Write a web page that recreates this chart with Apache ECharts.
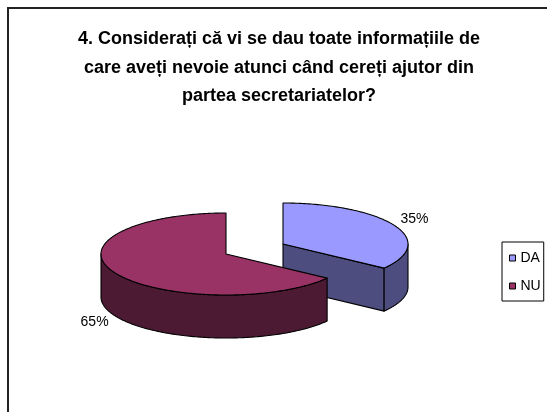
<!DOCTYPE html>
<html><head><meta charset="utf-8">
<script src="https://cdn.jsdelivr.net/npm/echarts@6/dist/echarts.min.js"></script>
<style>html,body{margin:0;padding:0;background:#fff}#c{width:547px;height:412px}</style>
</head><body><div id="c"></div>
<script>
const titleLines = ['4. Considerați că vi se dau toate informațiile de', 'care aveți nevoie atunci când cereți ajutor din', 'partea secretariatelor?'];
const categories = ['DA', 'NU'];
const values = [35, 65];
const topColors = ['#9999FF', '#993366'];
const sideColors = ['#4D4D80', '#4D1A33'];

// layout of the pseudo-3D pie
const CX = 226, CY = 254, RX = 125, RY = 41, DEPTH = 43;
const EXPLODE = [[57, -10], [0, 0]];
const total = values.reduce((a, b) => a + b, 0);

function pt(cx, cy, a, dy) {
  const r = a * Math.PI / 180;
  return [cx + RX * Math.sin(r), cy - RY * Math.cos(r) + (dy || 0)];
}
function arc(cx, cy, a0, a1, dy) {
  const pts = [];
  const n = Math.max(2, Math.ceil(Math.abs(a1 - a0)));
  for (let k = 0; k <= n; k++) pts.push(pt(cx, cy, a0 + (a1 - a0) * k / n, dy));
  return pts;
}
function renderSlice(idx) {
  return function (params, api) {
    const v = api.value(0);
    let start = 0;
    for (let k = 0; k < idx; k++) start += values[k];
    const a0 = start / total * 360, a1 = (start + v) / total * 360;
    const cx = CX + EXPLODE[idx][0], cy = CY + EXPLODE[idx][1];
    const line = { stroke: '#000', lineWidth: 1.1, lineJoin: 'round' };
    const children = [];
    [[a0, a0 - 90], [a1, a1 + 90]].forEach(function (f) {
      if (Math.cos(f[1] * Math.PI / 180) < -1e-6) {
        const p = pt(cx, cy, f[0]);
        children.push({ type: 'polygon', shape: { points: [[cx, cy], p, [p[0], p[1] + DEPTH], [cx, cy + DEPTH]] },
          style: Object.assign({ fill: sideColors[idx] }, line) });
      }
    });
    const w0 = Math.max(a0, 90), w1 = Math.min(a1, 270);
    if (w1 > w0) {
      const pts = arc(cx, cy, w0, w1, 0).concat(arc(cx, cy, w1, w0, DEPTH));
      children.push({ type: 'polygon', shape: { points: pts }, style: Object.assign({ fill: sideColors[idx] }, line) });
    }
    children.push({ type: 'polygon', shape: { points: [[cx, cy]].concat(arc(cx, cy, a0, a1, 0)) },
      style: Object.assign({ fill: topColors[idx] }, line) });
    const mid = (a0 + a1) / 2 * Math.PI / 180;
    const front = Math.cos(mid) < 0;
    const lx = cx + RX * 1.18 * Math.sin(mid);
    const ly = cy - RY * 1.35 * Math.cos(mid) + (front ? DEPTH : 0);
    children.push({ type: 'text', style: { text: Math.round(v / total * 100) + '%', x: lx, y: ly,
      align: 'center', verticalAlign: 'middle', fontFamily: 'Liberation Sans', fontSize: 14, fill: '#000' } });
    return { type: 'group', children: children };
  };
}

const chart = echarts.init(document.getElementById('c'), null, { renderer: 'canvas' });
chart.setOption({
  animation: false,
  backgroundColor: '#fff',
  title: {
    text: titleLines.join('\n'), left: 279, top: 25, textAlign: 'center', padding: 0,
    textStyle: { fontFamily: '"Liberation Sans Narrow", "Liberation Sans"', fontWeight: 'bold', fontSize: 18, lineHeight: 28.5, color: '#000' }
  },
  legend: {
    data: categories, orient: 'vertical', left: 502, top: 242, padding: [9, 3, 8, 7],
    itemWidth: 6, itemHeight: 6, itemGap: 14, icon: 'rect', selectedMode: false,
    borderColor: '#000', borderWidth: 1, backgroundColor: '#fff',
    itemStyle: { borderColor: '#000', borderWidth: 1 },
    textStyle: { fontFamily: 'Liberation Sans', fontSize: 14, color: '#000' }
  },
  graphic: [{ type: 'rect', shape: { x: 8, y: 8, width: 600, height: 500 }, style: { fill: 'none', stroke: '#222', lineWidth: 2 }, z: -10, silent: true }],
  series: categories.map(function (name, i) {
    return { type: 'custom', name: name, coordinateSystem: 'none', renderItem: renderSlice(i),
      data: [[values[i]]], itemStyle: { color: topColors[i] }, z: 2 + i, silent: true };
  })
});
</script></body></html>
